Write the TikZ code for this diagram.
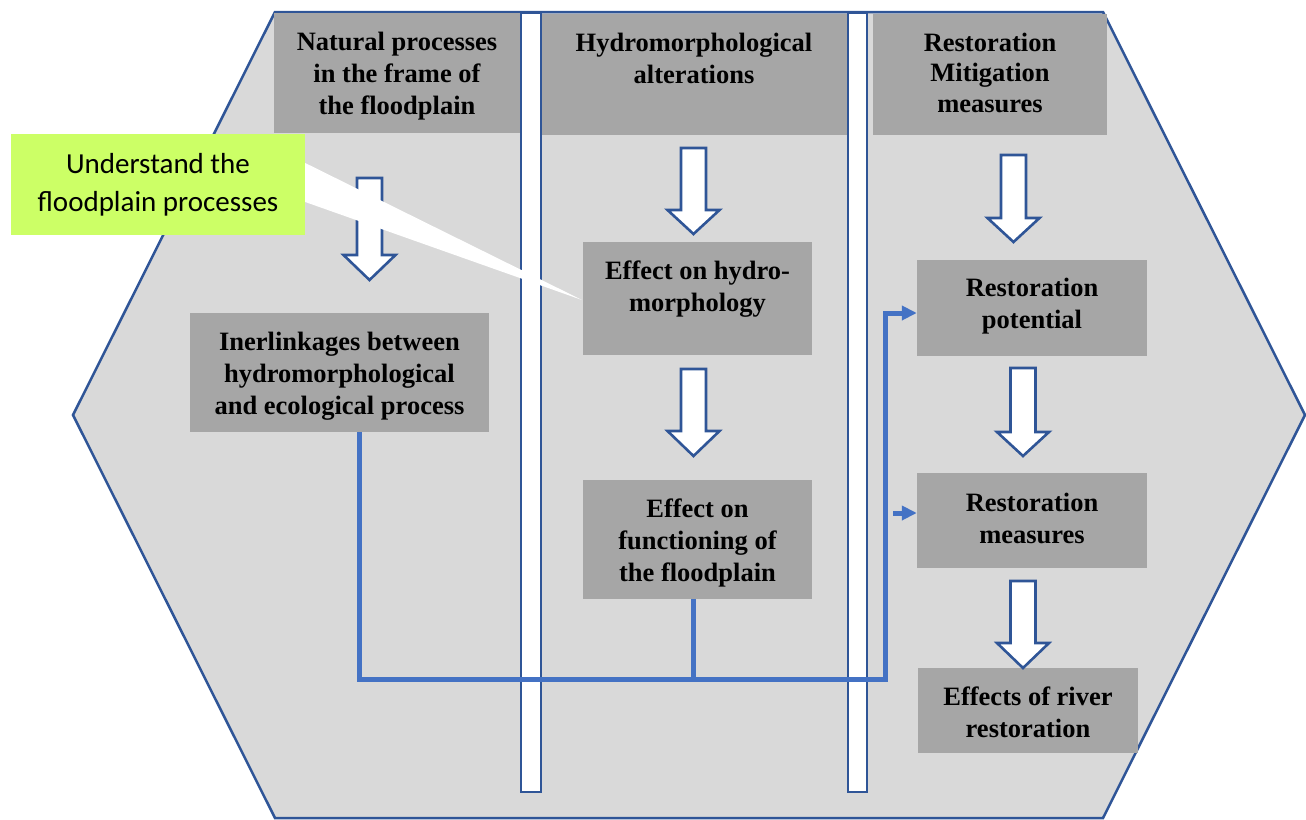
\documentclass[tikz,border=0pt]{standalone}
\usepackage{fontspec}
\setmainfont{Liberation Serif}
\newfontfamily\calloutfont{Carlito}
\usetikzlibrary{arrows.meta}
\definecolor{hexfill}{HTML}{D9D9D9}
\definecolor{boxgray}{HTML}{A6A6A6}
\definecolor{darkblue}{HTML}{2F5597}
\definecolor{lineblue}{HTML}{4472C4}
\definecolor{calloutgreen}{HTML}{CCFF66}
\tikzset{
  hexagon/.style={fill=hexfill, draw=darkblue, line width=2.5pt, line join=miter},
  graybox/.style={fill=boxgray, draw=none, inner sep=0pt},
  boxtext/.style={align=center, inner sep=0pt, text=black,
    font=\fontsize{26.5}{32}\selectfont\bfseries},
  whitebar/.style={fill=white, draw=darkblue, line width=2.2pt},
  blockarrow/.style={fill=white, draw=darkblue, line width=2.6pt, line join=miter},
  blueline/.style={draw=lineblue, line width=5pt},
  bluearrow/.style={blueline, -{Triangle[length=15pt,width=14pt]}},
  callout/.style={fill=calloutgreen, draw=none, inner sep=0pt, align=center,
    font=\calloutfont\fontsize{29}{38}\selectfont},
}
\newcommand{\barrow}[4]{%
  \draw[blockarrow] ({#1-12.5},#2) -- ({#1+12.5},#2) -- ({#1+12.5},#3) -- ({#1+26},#3)
    -- (#1,#4) -- ({#1-26},#3) -- ({#1-12.5},#3) -- cycle;}
\begin{document}
\begin{tikzpicture}[x=1pt,y=-1pt]
\useasboundingbox (0,0) rectangle (1306,819);
% hexagon background
\draw[hexagon] (275,12) -- (1103,12) -- (1305,415) -- (1103,818) -- (275,818) -- (73,415) -- cycle;

% header boxes
\node[graybox, minimum width=246pt, minimum height=120pt] (h1) at (397,73) {};
\node[boxtext] (h1t) at (397,76.5) {Natural processes\\in the frame of\\the floodplain};
\node[graybox, minimum width=308pt, minimum height=121pt] (h2) at (694,74.5) {};
\node[boxtext] (h2t) at (694,58.5) {Hydromorphological\\alterations};
\node[graybox, minimum width=234pt, minimum height=121pt] (h3) at (990,74.5) {};
\node[boxtext, font=\fontsize{26.5}{30.5}\selectfont\bfseries] (h3t) at (990,72.5) {Restoration\\Mitigation\\measures};

% content boxes
\node[graybox, minimum width=299pt, minimum height=119pt] (inter) at (339.5,372.5) {};
\node[boxtext] (intert) at (339.5,376.5) {Inerlinkages between\\hydromorphological\\and ecological process};
\node[graybox, minimum width=229pt, minimum height=113pt] (hm) at (697.5,298.5) {};
\node[boxtext] (hmt) at (697.5,289) {Effect on hydro-\\morphology};
\node[graybox, minimum width=229pt, minimum height=119pt] (func) at (697.5,539.5) {};
\node[boxtext] (funct) at (697.5,543) {Effect on\\functioning of\\the floodplain};
\node[graybox, minimum width=230pt, minimum height=96pt] (rp) at (1032,308) {};
\node[boxtext] (rpt) at (1032,306.5) {Restoration\\potential};
\node[graybox, minimum width=230pt, minimum height=95pt] (rm) at (1032,520.5) {};
\node[boxtext] (rmt) at (1032,518.5) {Restoration\\measures};
\node[graybox, minimum width=220pt, minimum height=85pt] (re) at (1028,710.5) {};
\node[boxtext] (ret) at (1028,712) {Effects of river\\restoration};

% vertical white bars
\draw[whitebar] (521,13) rectangle (541,792);
\draw[whitebar] (848,13) rectangle (867,792);

% block arrows
\barrow{369.5}{178}{255}{280}
\barrow{693.5}{148}{210}{234}
\barrow{1013.5}{155}{218}{242}
\barrow{693.5}{369}{431}{456}
\barrow{1023}{368}{432}{456}
\barrow{1023}{581}{643}{668}

% blue connectors
\coordinate (j) at (885,679);
\coordinate (k) at (885,313);
\coordinate (m) at (893,513);
\draw[blueline] ([xshift=-4.5pt]func.south) -- ([xshift=-4.5pt]func.south |- j);
\draw[bluearrow] ([xshift=19.5pt]inter.south) |- (j) -- (k) -- (rp.west |- k);
\draw[bluearrow] (m) -- (rm.west |- m);

% callout
\node[callout, minimum width=294pt, minimum height=101pt] (co) at (158,184.5) {};
\node[callout, fill=none] (cot) at (158,185) {Understand the\\floodplain processes};
\coordinate (tip) at (582,300);
\fill[white] (co.east |- 0,163) -- (tip) -- (co.east |- 0,202) -- cycle;
\end{tikzpicture}
\end{document}
